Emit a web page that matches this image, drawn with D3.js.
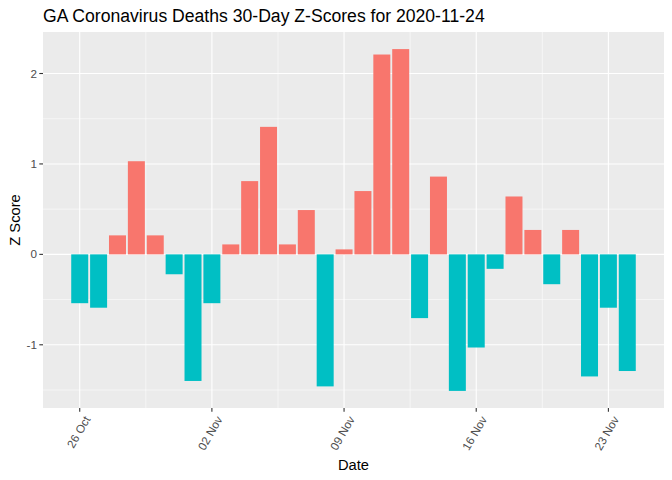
<!DOCTYPE html>
<html>
<head>
<meta charset="utf-8">
<script src="https://cdn.jsdelivr.net/npm/d3@7"></script>
<style>
  body { margin: 0; background: #fff; }
  svg { font-family: "Liberation Sans", Arial, sans-serif; }
</style>
</head>
<body>
<svg></svg>
<script>
// z-scores, one per day from 26 Oct to 24 Nov 2020
const startDate = '2020-10-26';
const zScores = [
  -0.54, -0.59, 0.21, 1.03, 0.21, -0.22, -1.40, -0.54, 0.11, 0.81,
  1.41, 0.11, 0.49, -1.46, 0.055, 0.70, 2.21, 2.27, -0.705, 0.86,
  -1.51, -1.03, -0.16, 0.64, 0.27, -0.33, 0.27, -1.35, -0.59, -1.29
];
const yTicks = [-1, 0, 1, 2];
const xTickLabels = ['26 Oct', '02 Nov', '09 Nov', '16 Nov', '23 Nov'];
const titleText = 'GA Coronavirus Deaths 30-Day Z-Scores for 2020-11-24';

const size = {w: 672, h: 480};
const margin = {t: 32, r: 8, b: 72, l: 43};
const svg = d3.select('svg').attr('width', size.w).attr('height', size.h);

const parse = d3.utcParse('%Y-%m-%d');
const day = 864e5;
const t0 = parse(startDate);
const data = zScores.map((v, i) => ({date: new Date(+t0 + i * day), z: v}));

// continuous date scale with ggplot-style 5% expansion
const lo = +data[0].date - 0.45 * day, hi = +data[data.length - 1].date + 0.45 * day;
const pad = (hi - lo) * 0.05;
const x = d3.scaleUtc()
  .domain([new Date(lo - pad), new Date(hi + pad)])
  .range([margin.l, size.w - margin.r]);

const zmin = d3.min(zScores), zmax = d3.max(zScores);
const ypad = (zmax - zmin) * 0.05;
const y = d3.scaleLinear()
  .domain([zmin - ypad, zmax + ypad])
  .range([size.h - margin.b, margin.t]);

const panelW = size.w - margin.r - margin.l;
const panelH = size.h - margin.b - margin.t;

// panel background
svg.append('rect')
  .attr('x', margin.l).attr('y', margin.t)
  .attr('width', panelW).attr('height', panelH)
  .attr('fill', '#EBEBEB');

const xTicks = xTickLabels.map((_, i) => new Date(+t0 + i * 7 * day));
const xMinor = d3.range(-1, xTicks.length).map(i => new Date(+t0 + (i * 7 + 3.5) * day))
  .filter(d => d >= x.domain()[0] && d <= x.domain()[1]);
const yMinor = yTicks.map(v => v - 0.5).concat([yTicks[yTicks.length - 1] + 0.5])
  .filter(v => v >= y.domain()[0] && v <= y.domain()[1]);

const grid = svg.append('g').attr('stroke', '#fff');
grid.selectAll('.ymin').data(yMinor).join('line')
  .attr('x1', margin.l).attr('x2', margin.l + panelW)
  .attr('y1', d => y(d)).attr('y2', d => y(d)).attr('stroke-width', 0.55);
grid.selectAll('.xmin').data(xMinor).join('line')
  .attr('y1', margin.t).attr('y2', margin.t + panelH)
  .attr('x1', d => x(d)).attr('x2', d => x(d)).attr('stroke-width', 0.55);
grid.selectAll('.ymaj').data(yTicks).join('line')
  .attr('x1', margin.l).attr('x2', margin.l + panelW)
  .attr('y1', d => y(d)).attr('y2', d => y(d)).attr('stroke-width', 1.1);
grid.selectAll('.xmaj').data(xTicks).join('line')
  .attr('y1', margin.t).attr('y2', margin.t + panelH)
  .attr('x1', d => x(d)).attr('x2', d => x(d)).attr('stroke-width', 1.1);

// bars
const bw = (x(new Date(+t0 + day)) - x(t0)) * 0.9;
svg.append('g').selectAll('rect')
  .data(data).join('rect')
  .attr('x', d => x(d.date) - bw / 2)
  .attr('width', bw)
  .attr('y', d => y(Math.max(0, d.z)))
  .attr('height', d => Math.abs(y(d.z) - y(0)))
  .attr('fill', d => d.z > 0 ? '#F8766D' : '#00BFC4');

// y axis
const yAx = svg.append('g');
yAx.selectAll('line').data(yTicks).join('line')
  .attr('x1', margin.l - 3.7).attr('x2', margin.l)
  .attr('y1', d => y(d)).attr('y2', d => y(d))
  .attr('stroke', '#333').attr('stroke-width', 1.1);
yAx.selectAll('text').data(yTicks).join('text')
  .attr('x', margin.l - 6).attr('y', d => y(d)).attr('dy', '0.35em')
  .attr('text-anchor', 'end').attr('font-size', 11.7).attr('fill', '#4D4D4D')
  .text(d => d);

// x axis
const xAx = svg.append('g');
const yb = margin.t + panelH;
xAx.selectAll('line').data(xTicks).join('line')
  .attr('x1', d => x(d)).attr('x2', d => x(d))
  .attr('y1', yb).attr('y2', yb + 3.7)
  .attr('stroke', '#333').attr('stroke-width', 1.1);
xAx.selectAll('text').data(xTicks).join('text')
  .attr('transform', d => `translate(${x(d) + 4},${yb + 7}) rotate(-60)`)
  .attr('dy', '0.7em')
  .attr('text-anchor', 'end').attr('font-size', 11.7).attr('fill', '#4D4D4D')
  .text((d, i) => xTickLabels[i]);

// titles
svg.append('text')
  .attr('x', margin.l + panelW / 2).attr('y', 470)
  .attr('text-anchor', 'middle').attr('font-size', 14.7).attr('fill', '#000')
  .text('Date');
svg.append('text')
  .attr('transform', `translate(20,${margin.t + panelH / 2}) rotate(-90)`)
  .attr('text-anchor', 'middle').attr('font-size', 14.7).attr('fill', '#000')
  .text('Z Score');
svg.append('text')
  .attr('x', margin.l).attr('y', 22)
  .attr('font-size', 17.6).attr('fill', '#000')
  .text(titleText);
</script>
</body>
</html>
